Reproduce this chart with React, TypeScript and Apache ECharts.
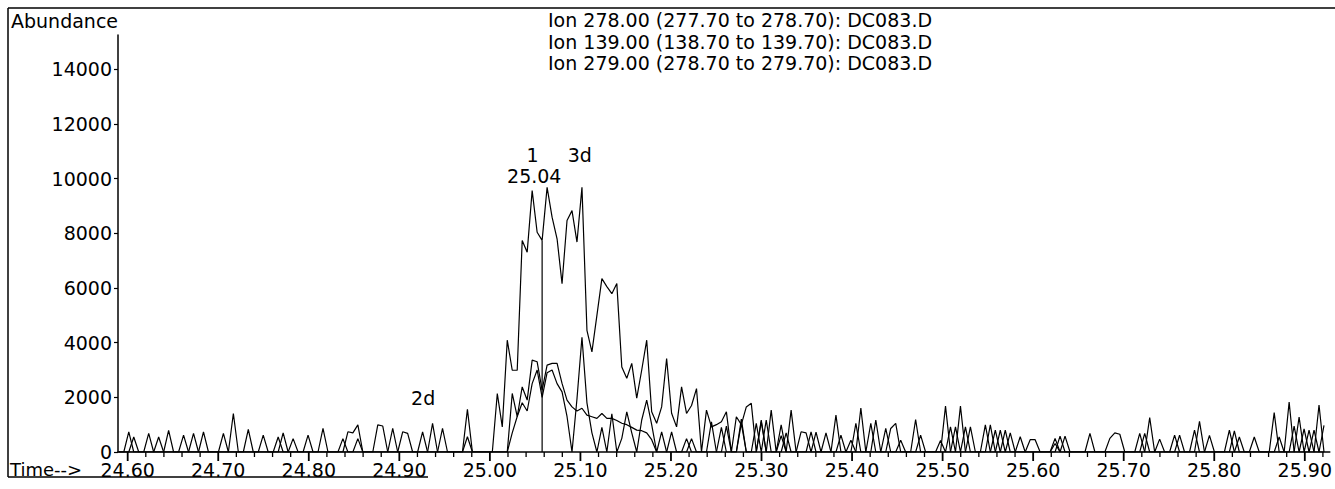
import React, { useEffect, useRef } from "react";
import * as echarts from "echarts";

// Header lines of the extracted ion chromatogram
const HEADER_LINES = [
  "Ion 278.00 (277.70 to 278.70): DC083.D",
  "Ion 139.00 (138.70 to 139.70): DC083.D",
  "Ion 279.00 (278.70 to 279.70): DC083.D",
];

const X_TICKS = [24.6, 24.7, 24.8, 24.9, 25.0, 25.1, 25.2, 25.3, 25.4, 25.5, 25.6, 25.7, 25.8, 25.9];
const Y_TICKS = [0, 2000, 4000, 6000, 8000, 10000, 12000, 14000];

// instrument scan grid (minutes)
const SCAN_START = 24.5902;
const SCAN_STEP = 0.0055;

// abundance per scan
const ION_278 = [
  0, 0, 740, 0, 0, 0, 0, 0, 550, 0,
  0, 0, 0, 0, 0, 680, 0, 0, 0, 0,
  0, 0, 0, 1410, 0, 0, 0, 0, 0, 0,
  0, 0, 550, 0, 0, 0, 0, 0, 620, 0,
  0, 0, 0, 0, 0, 0, 740, 700, 990, 0,
  0, 0, 0, 0, 0, 860, 0, 0, 0, 0,
  0, 0, 0, 1050, 0, 0, 0, 0, 0, 0,
  1560, 0, 0, 0, 0, 0, 2140, 920, 4090, 2990,
  2990, 7740, 7310, 9560, 8040, 7740, 9680, 8590, 7800, 6160,
  8470, 8830, 7680, 9680, 4450, 3660, 5000, 6340, 6050, 5790,
  6160, 3110, 2700, 3240, 1970, 3000, 4090, 1470, 1050, 1650,
  3420, 1420, 920, 2380, 1410, 1700, 2320, 0, 1530, 920,
  1000, 1110, 1470, 0, 1290, 1000, 1650, 1780, 0, 1110,
  0, 1530, 0, 990, 0, 1530, 0, 0, 0, 740,
  0, 0, 0, 0, 1350, 0, 0, 0, 0, 1610,
  0, 0, 1170, 0, 0, 860, 1050, 0, 0, 0,
  1190, 0, 0, 0, 0, 0, 1680, 0, 0, 0,
  0, 920, 0, 0, 0, 990, 0, 0, 800, 0,
  0, 560, 0, 0, 0, 0, 0, 0, 0, 580,
  0, 0, 0, 0, 0, 680, 0, 0, 0, 0,
  0, 0, 0, 0, 0, 0, 0, 1260, 0, 0,
  0, 0, 0, 620, 0, 0, 0, 1120, 0, 0,
  0, 0, 0, 800, 0, 0, 0, 0, 550, 0,
  0, 0, 1440, 0, 0, 1830, 0, 0, 0, 0,
  0, 1720, 0,
];

const ION_139 = [
  0, 0, 0, 550, 0, 0, 0, 0, 0, 0,
  790, 0, 0, 0, 0, 0, 0, 740, 0, 0,
  0, 0, 0, 0, 0, 0, 830, 0, 0, 0,
  0, 0, 0, 700, 0, 0, 0, 0, 0, 0,
  0, 860, 0, 0, 0, 0, 0, 0, 490, 0,
  0, 0, 0, 0, 0, 0, 0, 740, 680, 0,
  0, 0, 0, 0, 0, 860, 0, 0, 0, 0,
  0, 0, 0, 0, 0, 0, 0, 0, 0, 2140,
  1290, 2380, 1900, 3360, 3300, 2260, 3180, 3240, 3240, 2510,
  1900, 1650, 1500, 1600, 1350, 1290, 1230, 1410, 1230, 1230,
  1150, 1050, 1000, 900, 800, 780, 700, 450, 0, 0,
  0, 740, 0, 0, 0, 490, 0, 0, 0, 1100,
  0, 0, 950, 0, 0, 1200, 0, 0, 1050, 0,
  1170, 0, 0, 0, 700, 0, 0, 740, 700, 0,
  730, 0, 700, 0, 0, 620, 0, 430, 0, 0,
  0, 1050, 0, 0, 0, 0, 0, 430, 0, 0,
  0, 620, 0, 0, 0, 420, 0, 920, 0, 1680,
  0, 0, 0, 0, 990, 0, 0, 800, 0, 700,
  0, 0, 0, 450, 450, 0, 0, 0, 310, 0,
  580, 0, 0, 0, 0, 0, 0, 0, 0, 500,
  700, 650, 0, 0, 0, 680, 0, 0, 0, 470,
  0, 0, 620, 0, 0, 0, 0, 0, 0, 610,
  0, 0, 0, 0, 770, 0, 0, 0, 0, 0,
  0, 0, 0, 0, 0, 0, 0, 1280, 0, 800,
  0, 0, 970,
];

const ION_279 = [
  0, 0, 0, 0, 0, 0, 680, 0, 0, 0,
  0, 0, 0, 620, 0, 0, 0, 0, 0, 0,
  0, 680, 0, 0, 0, 0, 0, 0, 0, 620,
  0, 0, 0, 0, 0, 490, 0, 0, 0, 0,
  0, 0, 0, 0, 0, 490, 0, 0, 0, 0,
  0, 0, 990, 950, 0, 0, 0, 0, 0, 0,
  0, 740, 0, 0, 0, 0, 0, 0, 0, 0,
  560, 0, 0, 0, 0, 0, 0, 0, 0, 700,
  1300, 1800, 1500, 2500, 3000, 2000, 2900, 3000, 2500, 2200,
  1300, 0, 1950, 4200, 1800, 700, 0, 900, 0, 1400,
  0, 500, 1470, 700, 0, 1170, 1900, 1000, 0, 740,
  0, 0, 0, 0, 490, 0, 0, 0, 0, 0,
  0, 900, 0, 0, 0, 1050, 0, 0, 0, 1170,
  0, 0, 0, 600, 0, 0, 0, 0, 0, 0,
  0, 0, 0, 0, 0, 0, 0, 0, 1050, 0,
  0, 0, 0, 0, 860, 0, 0, 0, 0, 0,
  0, 0, 0, 0, 0, 0, 0, 0, 920, 0,
  920, 0, 0, 0, 0, 0, 800, 0, 0, 0,
  0, 0, 0, 0, 0, 0, 0, 0, 500, 0,
  0, 0, 0, 0, 0, 0, 0, 0, 0, 0,
  0, 0, 0, 0, 0, 0, 680, 0, 0, 0,
  0, 0, 0, 0, 0, 0, 800, 0, 0, 0,
  0, 0, 0, 0, 0, 550, 0, 0, 0, 0,
  0, 0, 0, 550, 0, 0, 950, 0, 850, 0,
  800, 0, 0,
];

// scan index of the integrated peak marker (compound 1)
const PEAK_INDEX = 85;

const ANNOTATIONS = [
  { text: "1", time: 25.047, abundance: 10850 },
  { text: "25.04", time: 25.049, abundance: 10080 },
  { text: "3d", time: 25.0993, abundance: 10860 },
  { text: "2d", time: 24.9263, abundance: 1960 },
];

const X_MIN = 24.5893;
const X_MAX = 25.9276;
const Y_MAX = 15254;

const FONT = "DejaVu Sans";
const FS = 19;
const GRID_H = 417;

export default function App() {
  const ref = useRef<HTMLDivElement>(null);

  useEffect(() => {
    if (!ref.current) return;
    const chart = echarts.init(ref.current, null, { renderer: "svg" });

    const toPairs = (arr: number[]) => arr.map((v, i) => [SCAN_START + i * SCAN_STEP, v]);
    const minorTicks: number[] = [];
    for (let k = 0; k <= 66; k++) {
      if (k % 5 !== 0) minorTicks.push(Math.round((24.6 + k * 0.02) * 1000) / 1000);
    }
    // tick marks hang below the time axis: length in px converted to axis units
    const unitsPerPx = Y_MAX / GRID_H;
    const tickSegments = (vals: number[], lenPx: number) => {
      const out: any[] = [];
      vals.forEach((v) => out.push([v, 0], [v, -lenPx * unitsPerPx], "-"));
      return out;
    };

    const lineStyle = { color: "#000", width: 1.2 };
    const traceSeries = [ION_278, ION_139, ION_279].map((arr, idx) => ({
      type: "line",
      name: HEADER_LINES[idx],
      data: toPairs(arr),
      symbol: "none",
      showSymbol: false,
      lineStyle,
      silent: true,
      z: 3,
    }));
    const peakTime = SCAN_START + PEAK_INDEX * SCAN_STEP;

    const text = (t: string, x: number, y: number, size = FS) => ({
      type: "text",
      x,
      y,
      silent: true,
      style: {
        text: t,
        fill: "#000",
        font: `${size}px ${FONT}`,
        textAlign: "left",
        textVerticalAlign: "middle",
        align: "left",
        verticalAlign: "middle",
      },
    });

    chart.setOption({
      animation: false,
      backgroundColor: "#fff",
      grid: { left: 118, top: 35, width: 1215, height: GRID_H, containLabel: false },
      xAxis: {
        type: "value",
        min: X_MIN,
        max: X_MAX,
        axisLine: { show: true, onZero: false, lineStyle: { color: "#000", width: 1.5 } },
        axisTick: { show: false },
        axisLabel: {
          customValues: X_TICKS,
          formatter: (v: number) => v.toFixed(2),
          color: "#000",
          fontFamily: FONT,
          fontSize: FS,
          lineHeight: 15,
          margin: 10,
        },
        splitLine: { show: false },
      },
      yAxis: {
        type: "value",
        min: 0,
        max: Y_MAX,
        axisLine: { show: true, lineStyle: { color: "#000", width: 1.5 } },
        axisTick: { show: true, customValues: Y_TICKS, length: 4, lineStyle: { color: "#000", width: 1.2 } },
        axisLabel: {
          customValues: Y_TICKS,
          formatter: (v: number) => String(v),
          color: "#000",
          fontFamily: FONT,
          fontSize: FS,
          lineHeight: 15,
          margin: 6,
        },
        splitLine: { show: false },
      },
      series: [
        ...traceSeries,
        {
          type: "line",
          name: "peak marker",
          data: [
            [peakTime, 0],
            [peakTime, ION_278[PEAK_INDEX]],
          ],
          symbol: "none",
          lineStyle,
          silent: true,
          z: 4,
        },
        {
          type: "line",
          name: "major ticks",
          data: tickSegments(X_TICKS, 9),
          symbol: "none",
          clip: false,
          connectNulls: false,
          lineStyle: { color: "#000", width: 1.8 },
          silent: true,
          z: 4,
        },
        {
          type: "line",
          name: "minor ticks",
          data: tickSegments(minorTicks, 5),
          symbol: "none",
          clip: false,
          connectNulls: false,
          lineStyle: { color: "#000", width: 1.3 },
          silent: true,
          z: 4,
        },
        {
          type: "scatter",
          name: "annotations",
          data: ANNOTATIONS.map((a) => ({ value: [a.time, a.abundance], name: a.text })),
          symbolSize: 1,
          itemStyle: { color: "rgba(0,0,0,0)", opacity: 1 },
          silent: true,
          label: {
            show: true,
            position: "inside",
            formatter: "{b}",
            color: "#000",
            opacity: 1,
            fontFamily: FONT,
            fontSize: FS,
            lineHeight: 16,
          },
          z: 5,
        },
      ],
      graphic: [
        { type: "line", silent: true, shape: { x1: 8, y1: 8, x2: 1335, y2: 8 }, style: { stroke: "#000", lineWidth: 1.5 } },
        { type: "line", silent: true, shape: { x1: 8, y1: 8, x2: 8, y2: 477 }, style: { stroke: "#000", lineWidth: 1.5 } },
        { type: "line", silent: true, shape: { x1: 8, y1: 477, x2: 428, y2: 477 }, style: { stroke: "#000", lineWidth: 1.5 } },
        text("Abundance", 11, 21),
        text("Time-->", 10, 469, 18),
        ...HEADER_LINES.map((h, i) => text(h, 548, 20 + i * 21.7)),
      ],
    });

    return () => chart.dispose();
  }, []);

  return (
    <div
      ref={ref}
      style={{ position: "fixed", left: 0, top: 0, width: 1335, height: 489, background: "#fff" }}
    />
  );
}
